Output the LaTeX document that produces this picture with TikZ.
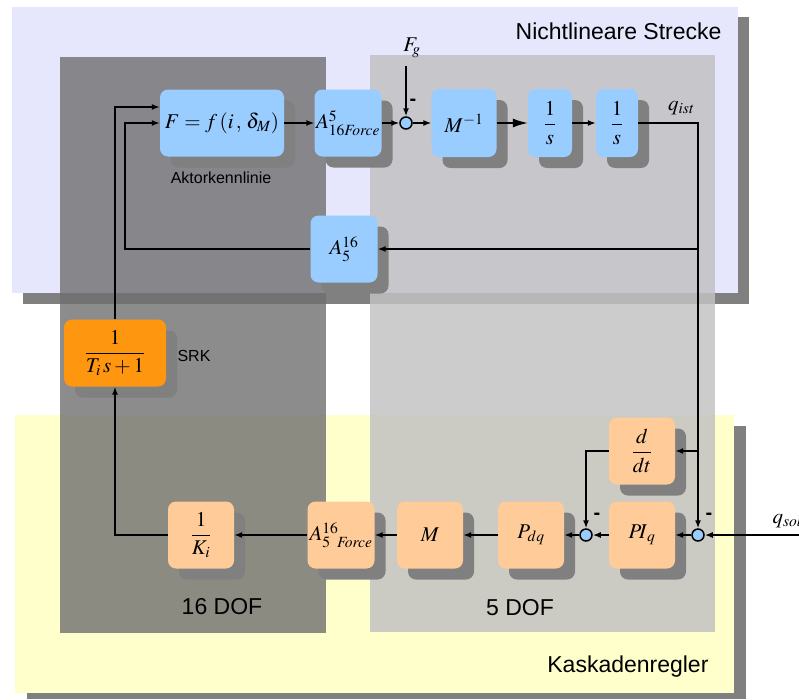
\documentclass[tikz,border=0pt]{standalone}
\usepackage{amsmath}
\usepackage{mathptmx}
\usepackage[no-math]{fontspec}
\setsansfont{Liberation Sans}
\usepackage{tikz}
\usetikzlibrary{arrows.meta, positioning, calc, shadows}

\definecolor{lavendel}{RGB}{230,230,252}
\definecolor{hellgelb}{RGB}{255,255,204}
\definecolor{blockblau}{RGB}{153,204,255}
\definecolor{blockpfirsich}{RGB}{255,204,153}
\definecolor{blockorange}{RGB}{255,150,15}
\definecolor{schatten}{RGB}{128,128,128}
\definecolor{dunkelgrau}{RGB}{111,111,111}
\definecolor{hellgrau}{RGB}{194,194,194}

\begin{document}
\begin{tikzpicture}[x=1pt, y=-1pt,
  sig/.style={line width=1.5pt, -{Latex[length=8pt, width=6pt]}},
  blk/.style={rounded corners=8pt, minimum width=66pt, minimum height=67pt, inner sep=0pt,
    font=\fontsize{21}{25}\selectfont,
    drop shadow={shadow xshift=11pt, shadow yshift=-11pt, fill=schatten, opacity=1}},
  blau/.style={blk, fill=blockblau},
  pfirsich/.style={blk, fill=blockpfirsich},
  summe/.style={circle, draw, line width=1.5pt, fill=blockblau, minimum size=12pt, inner sep=0pt},
  minus/.style={font=\sffamily\bfseries\fontsize{20}{22}\selectfont},
  klein/.style={font=\sffamily\fontsize{16}{19}\selectfont},
  gross/.style={font=\sffamily\fontsize{23}{28}\selectfont}]
  \useasboundingbox (0,0) rectangle (799,699);

  % Hintergruende
  \fill[schatten] (23,17) rectangle (749,304);
  \fill[lavendel] (12,7) rectangle (738,293);
  \fill[schatten] (27,426) rectangle (746,699);
  \fill[hellgelb] (15,415) rectangle (734,693);
  \fill[dunkelgrau, fill opacity=0.8] (60,57) rectangle (326,633);
  \fill[hellgrau, fill opacity=0.84] (370,55) rectangle (715,632);

  \node[gross, anchor=east] (strecke) at (725,31) {Nichtlineare Strecke};
  \node[gross, anchor=east] (regler) at (712,667) {Kaskadenregler};
  \node[gross] (dof16) at (222,607) {16 DOF};
  \node[gross] (dof5) at (520,608) {5 DOF};

  % Strecke
  \node[blau, minimum width=124pt] (kennl) at (222,123) {$F=f\,(i\,,\,\delta_M)$};
  \node[klein] (kennltext) at (221,178) {Aktorkennlinie};
  \node[blau, minimum width=67pt] (afo) at (348,123) {$A^{5}_{16\mathit{Force}}$};
  \node[summe] (sum1) at (406,123) {};
  \node[blau, minimum width=65pt, minimum height=68pt] (minv) at (464,123) {$M^{-1}$};
  \node[blau, minimum width=44pt, minimum height=68pt] (int1) at (550,123) {$\dfrac{1}{s}$};
  \node[blau, minimum width=42pt, minimum height=68pt] (int2) at (617,123) {$\dfrac{1}{s}$};
  \node[blau, minimum width=67pt] (arueck) at (344,249) {$A^{16}_{5}$};

  \coordinate (fg) at (406,66);
  \node (fgtext) at (412,48) {\fontsize{21}{25}\selectfont$F_{\!g}$};
  \node[minus] at (413,102) {-};
  \node (qist) at (681,108) {\fontsize{21}{25}\selectfont$q_{\mathit{ist}}$};

  \draw[sig] (kennl) -- (afo);
  \draw[sig] (afo) -- (sum1);
  \draw[sig] (fg) -- (sum1);
  \draw[sig] (sum1) -- (minv);
  \draw[line width=1.5pt, -{Latex[length=15pt, width=9pt]}] (minv) -- (int1);
  \draw[sig] (int1) -- (int2);

  % Regler
  \node[blk, fill=blockorange, minimum width=102pt] (srk) at (115,353) {$\dfrac{1}{T_i\,s+1}$};
  \node[klein] (srktext) at (194,356) {SRK};
  \node[pfirsich] (ki) at (201,535) {$\dfrac{1}{K_i}$};
  \node[pfirsich, minimum width=67pt] (afu) at (341,535) {$A^{16}_{5\;\;\mathit{Force}}$};
  \node[pfirsich] (mm) at (430,535) {$M$};
  \node[pfirsich] (pdq) at (531,535) {$P_{dq}$};
  \node[summe] (sum2) at (586,535) {};
  \node[pfirsich] (piq) at (642,535) {$P\!I_{\,q}$};
  \node[summe] (sum3) at (698,535) {};
  \node[pfirsich] (ddt) at (642,451) {$\dfrac{d}{dt}$};

  \node[minus] at (597,516) {-};
  \node[minus] at (709,516) {-};
  \coordinate (qsoll) at (799,535);
  \node[anchor=west] (qsolltext) at (769,521) {\fontsize{21}{25}\selectfont$q_{\mathit{soll}}$};

  % Rueckfuehrungen
  \coordinate (abzw1) at (698,249);
  \coordinate (abzw2) at (698,451);
  \coordinate (rueck) at (125,249);
  \draw[sig] (int2) -| (sum3);
  \draw[sig] (abzw1) -- (arueck);
  \draw[sig] (arueck) -- (rueck) |- (kennl);
  \draw[sig] (abzw2) -- (ddt);
  \draw[sig] (ddt) -| (sum2);
  \draw[sig] (qsoll) -- (sum3);
  \draw[sig] (sum3) -- (piq);
  \draw[sig] (piq) -- (sum2);
  \draw[sig] (sum2) -- (pdq);
  \draw[sig] (pdq) -- (mm);
  \draw[sig] (mm) -- (afu);
  \draw[sig] (afu) -- (ki);
  \draw[sig] (ki) -| (srk);
  \draw[sig] (srk) |- ([yshift=16pt]kennl.west);
\end{tikzpicture}
\end{document}
